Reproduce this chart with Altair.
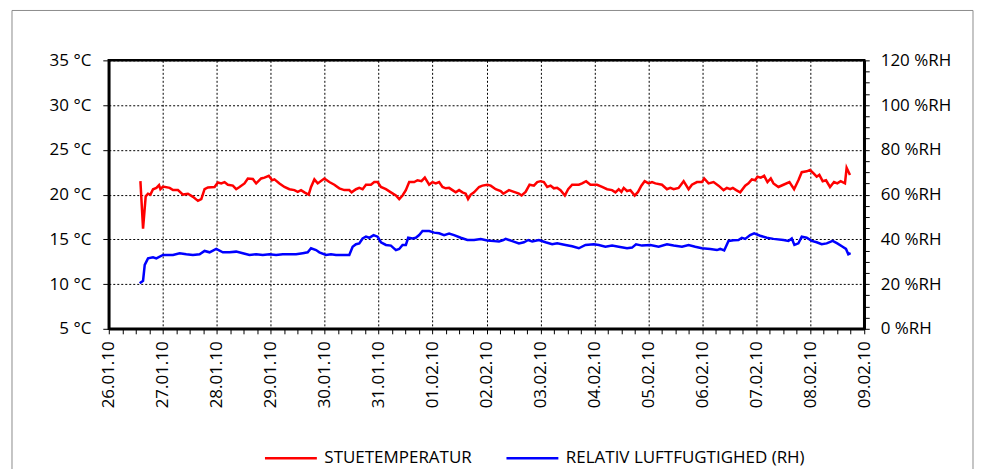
import altair as alt
import pandas as pd

# ---------------- data ----------------
day_labels = ["26.01.10", "27.01.10", "28.01.10", "29.01.10", "30.01.10",
              "31.01.10", "01.02.10", "02.02.10", "03.02.10", "04.02.10",
              "05.02.10", "06.02.10", "07.02.10", "08.02.10", "09.02.10"]

series_names = ["Stuetemperatur", "Relativ luftfugtighed (RH)"]
series_colors = ["#ff0000", "#0000ff"]

# days since 26.01.10 00:00
temp_day = [0.586, 0.635, 0.684, 0.727, 0.771, 0.820, 0.882, 0.931, 0.956, 1.005,
            1.128, 1.190, 1.282, 1.375, 1.467, 1.560, 1.652, 1.714, 1.775, 1.837,
            1.960, 2.022, 2.084, 2.145, 2.207, 2.299, 2.361, 2.423, 2.515, 2.577,
            2.669, 2.731, 2.824, 2.885, 2.965, 3.027, 3.070, 3.163, 3.255, 3.348,
            3.440, 3.502, 3.563, 3.625, 3.705, 3.748, 3.810, 3.872, 3.995, 4.087,
            4.180, 4.272, 4.365, 4.457, 4.500, 4.581, 4.642, 4.704, 4.766, 4.858,
            4.920, 4.981, 5.043, 5.136, 5.228, 5.321, 5.382, 5.444, 5.505, 5.567,
            5.660, 5.721, 5.795, 5.857, 5.937, 5.999, 6.060, 6.122, 6.184, 6.245,
            6.307, 6.369, 6.430, 6.492, 6.554, 6.615, 6.658, 6.708, 6.769, 6.862,
            6.924, 7.016, 7.078, 7.170, 7.263, 7.312, 7.416, 7.509, 7.601, 7.650,
            7.724, 7.798, 7.878, 7.940, 8.002, 8.063, 8.125, 8.187, 8.248, 8.310,
            8.372, 8.452, 8.513, 8.587, 8.711, 8.772, 8.846, 8.926, 9.050, 9.142,
            9.235, 9.327, 9.389, 9.450, 9.500, 9.543, 9.605, 9.666, 9.746, 9.808,
            9.870, 9.931, 10.005, 10.067, 10.129, 10.252, 10.344, 10.406, 10.468, 10.560,
            10.653, 10.745, 10.807, 10.900, 10.992, 11.035, 11.115, 11.208, 11.300, 11.393,
            11.454, 11.516, 11.565, 11.627, 11.701, 11.794, 11.855, 11.917, 11.979, 12.022,
            12.083, 12.145, 12.207, 12.268, 12.318, 12.410, 12.503, 12.614, 12.700, 12.780,
            12.842, 12.934, 12.996, 13.057, 13.119, 13.168, 13.230, 13.292, 13.366, 13.440,
            13.501, 13.563, 13.643, 13.674, 13.736]
temp_c = [21.5, 16.2, 19.8, 20.1, 20.0, 20.6, 20.75, 21.05, 20.6, 20.9,
          20.75, 20.5, 20.5, 20.0, 20.1, 19.75, 19.3, 19.5, 20.6, 20.8,
          20.85, 21.35, 21.25, 21.4, 21.1, 21.0, 20.6, 20.85, 21.25, 21.8,
          21.75, 21.25, 21.8, 21.9, 22.1, 21.6, 21.7, 21.25, 20.85, 20.6,
          20.5, 20.3, 20.5, 20.25, 20.0, 20.85, 21.7, 21.25, 21.8, 21.4,
          21.1, 20.7, 20.5, 20.5, 20.25, 20.6, 20.75, 20.6, 21.1, 21.1,
          21.4, 21.4, 20.85, 20.6, 20.25, 19.9, 19.5, 19.9, 20.5, 21.4,
          21.4, 21.6, 21.5, 21.9, 21.1, 21.4, 21.25, 21.4, 20.85, 20.7,
          20.75, 20.5, 20.25, 20.5, 20.25, 20.1, 19.5, 20.0, 20.25, 20.85,
          21.0, 21.1, 21.0, 20.6, 20.4, 20.1, 20.5, 20.3, 20.1, 19.9,
          20.3, 21.1, 21.0, 21.4, 21.5, 21.4, 20.85, 21.0, 20.7, 20.75,
          20.5, 19.9, 20.6, 21.1, 21.1, 21.25, 21.5, 21.1, 21.1, 20.85,
          20.6, 20.5, 20.25, 20.6, 20.3, 20.75, 20.4, 20.5, 19.9, 20.3,
          21.0, 21.5, 21.25, 21.4, 21.25, 21.1, 20.6, 20.75, 20.6, 20.75,
          21.5, 20.6, 21.1, 21.4, 21.4, 21.8, 21.25, 21.4, 21.0, 20.5,
          20.75, 20.6, 20.75, 20.5, 20.25, 21.0, 21.25, 21.7, 21.6, 22.0,
          21.9, 22.1, 21.4, 21.8, 21.25, 20.85, 21.1, 21.4, 20.6, 21.6,
          22.5, 22.6, 22.75, 22.4, 22.0, 22.2, 21.5, 21.6, 20.85, 21.4,
          21.25, 21.5, 21.25, 23.0, 22.2]

rh_day = [0.573, 0.635, 0.666, 0.727, 0.820, 0.881, 1.005, 1.190, 1.313, 1.436,
          1.559, 1.683, 1.775, 1.868, 1.991, 2.114, 2.238, 2.361, 2.484, 2.608,
          2.731, 2.854, 2.977, 3.101, 3.224, 3.347, 3.471, 3.594, 3.686, 3.748,
          3.841, 3.902, 4.026, 4.118, 4.211, 4.334, 4.457, 4.519, 4.581, 4.642,
          4.704, 4.766, 4.827, 4.907, 4.981, 5.043, 5.136, 5.228, 5.321, 5.382,
          5.444, 5.505, 5.549, 5.629, 5.690, 5.752, 5.814, 5.937, 6.030, 6.122,
          6.214, 6.307, 6.399, 6.523, 6.646, 6.769, 6.893, 7.016, 7.139, 7.232,
          7.312, 7.354, 7.478, 7.601, 7.693, 7.774, 7.848, 7.971, 8.094, 8.217,
          8.310, 8.464, 8.587, 8.711, 8.834, 8.988, 9.081, 9.204, 9.327, 9.450,
          9.605, 9.697, 9.771, 9.882, 10.036, 10.190, 10.344, 10.468, 10.622, 10.745,
          10.869, 10.992, 11.146, 11.270, 11.331, 11.405, 11.485, 11.578, 11.670, 11.732,
          11.794, 11.886, 11.960, 12.071, 12.194, 12.318, 12.503, 12.595, 12.657, 12.706,
          12.780, 12.842, 12.934, 13.027, 13.119, 13.211, 13.304, 13.415, 13.501, 13.600,
          13.662, 13.705, 13.748]
rh_pct = [20.4, 21.5, 28.6, 31.5, 32.0, 31.5, 33.0, 33.0, 33.8, 33.3,
          33.0, 33.3, 34.8, 34.2, 35.7, 34.2, 34.2, 34.5, 33.8, 33.0,
          33.3, 33.0, 33.3, 33.0, 33.3, 33.3, 33.3, 33.8, 34.2, 36.0,
          35.2, 34.2, 33.0, 33.3, 33.0, 33.0, 33.0, 36.7, 37.8, 38.2,
          40.4, 41.2, 40.7, 41.9, 41.2, 38.7, 37.5, 37.2, 35.2, 35.7,
          37.5, 37.5, 40.7, 40.4, 40.7, 41.9, 43.7, 43.7, 43.0, 42.7,
          41.9, 42.6, 41.9, 40.7, 39.7, 39.7, 40.1, 39.5, 39.2, 39.0,
          39.7, 40.2, 39.2, 38.2, 38.7, 39.7, 39.0, 39.7, 38.7, 37.8,
          38.2, 37.5, 36.9, 36.0, 37.5, 37.8, 37.5, 36.7, 37.2, 36.7,
          36.0, 36.3, 37.8, 37.2, 37.5, 36.7, 37.8, 37.2, 36.7, 37.5,
          36.7, 36.0, 35.7, 35.2, 35.7, 35.0, 39.3, 39.6, 39.7, 40.7,
          40.2, 41.9, 42.7, 41.6, 40.7, 40.2, 39.7, 39.3, 40.4, 37.5,
          38.2, 41.2, 40.7, 39.3, 38.7, 37.8, 38.2, 39.3, 38.2, 36.7,
          35.7, 33.3, 33.8]

temp_ticks = [5, 10, 15, 20, 25, 30, 35]
rh_ticks = list(range(0, 121, 5))          # labelled every 20
x_ticks = [i / 4 for i in range(0, 14 * 4 + 1)]  # every 6 hours

# ---------------- build tables ----------------
df_t = pd.DataFrame({"day": temp_day, "value": temp_c, "series": series_names[0]})
df_h = pd.DataFrame({"day": rh_day, "value": rh_pct, "series": series_names[1]})

FONT = "Open Sans"
label_js = "[" + ",".join("'" + s + "'" for s in day_labels) + "]"
x_label_expr = "datum.value % 1 === 0 ? " + label_js + "[datum.value] : ''"

x_enc = alt.X(
    "day:Q",
    scale=alt.Scale(domain=[0, 14], nice=False, zero=False),
    axis=alt.Axis(
        values=x_ticks,
        title=None,
        labelAngle=-90,
        labelAlign="right",
        labelBaseline="middle",
        labelPadding=7,
        labelFontSize=17,
        labelExpr=x_label_expr,
        tickSize=5,
        grid=True,
        gridOpacity={"condition": {"test": "datum.value % 1 === 0", "value": 1}, "value": 0},
        labelOverlap=False,
        labelBound=False,
        labelFlush=False,
    ),
)

color_enc = alt.Color(
    "series:N",
    scale=alt.Scale(domain=series_names, range=series_colors),
    legend=alt.Legend(
        title=None,
        orient="none",
        legendX=155,
        legendY=371,
        direction="horizontal",
        columns=2,
        symbolType="stroke",
        symbolSize=2704,
        symbolStrokeWidth=2.5,
        labelExpr="upper(datum.label)",
        labelFontSize=17,
        labelLimit=500,
        labelOffset=6,
        columnPadding=29,
    ),
)

temp_line = alt.Chart(df_t).mark_line(strokeWidth=2.5).encode(
    x=x_enc,
    y=alt.Y(
        "value:Q",
        scale=alt.Scale(domain=[5, 35], nice=False, zero=False),
        axis=alt.Axis(
            values=temp_ticks,
            title=None,
            orient="left",
            labelExpr="datum.value + ' °C'",
            labelFontSize=17,
            labelPadding=12,
            tickSize=6,
            grid=True,
        ),
    ),
    color=color_enc,
)

rh_line = alt.Chart(df_h).mark_line(strokeWidth=2.5).encode(
    x=x_enc,
    y=alt.Y(
        "value:Q",
        scale=alt.Scale(domain=[0, 120], nice=False, zero=True),
        axis=alt.Axis(
            values=rh_ticks,
            title=None,
            orient="right",
            labelExpr="datum.value % 20 === 0 ? datum.value + ' %RH' : ''",
            labelFontSize=17,
            labelPadding=11,
            tickSize=5,
            grid=False,
        ),
    ),
    color=color_enc,
)

frame = alt.Chart(alt.Data(values=[{"f": 1}])).mark_rect(
    fillOpacity=0, stroke="#8c8c8c", strokeWidth=1
).encode(
    x=alt.value(-97), x2=alt.value(866), y=alt.value(-50), y2=alt.value(430)
)

chart = (
    alt.layer(frame, temp_line, rh_line)
    .resolve_scale(y="independent")
    .properties(
        width=757,
        height=269,
        autosize=alt.AutoSizeParams(type="none"),
        padding={"left": 101, "top": 52, "right": 110, "bottom": 140},
        background="white",
    )
    .configure_view(stroke="black", strokeWidth=2.5)
    .configure_axis(
        domainColor="black",
        domainWidth=2.5,
        tickColor="black",
        tickWidth=1,
        labelColor="black",
        labelFont=FONT,
        gridColor="black",
        gridDash=[2, 2],
        gridWidth=1,
    )
    .configure_legend(labelFont=FONT, labelColor="black")
)

chart.save("out.html", embed_options={"renderer": "svg", "actions": False})
